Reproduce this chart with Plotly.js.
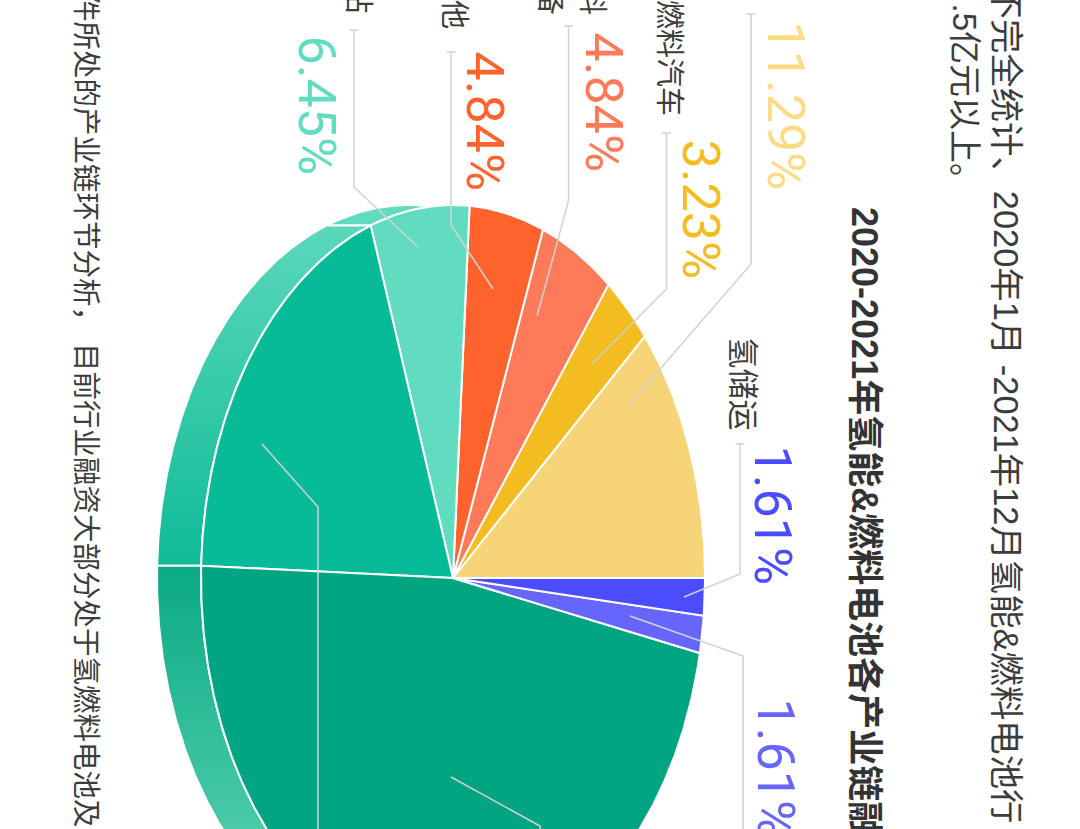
<!DOCTYPE html>
<html>
<head>
<meta charset="utf-8">
<script src="https://cdn.plot.ly/plotly-3.0.1.min.js"></script>
<style>html,body{margin:0;padding:0;background:#fff}#chart{width:1080px;height:829px}</style>
</head>
<body>
<div id="chart"></div>
<script>
// ---- data (counter-clockwise on screen, from 3 o'clock) ----
const segments = ['storage','fuelCars','materials','other','stations','green2','green1','blueB','blueA'];
const shares   = [11.29, 3.23, 4.84, 4.84, 6.45, 19.35, 46.77, 1.61, 1.61];
const percentLabels = ['11.29%','3.23%','4.84%','4.84%','6.45%','1.61%','1.61%'];

// ---- styles ----
const sliceColors = ['#f6d477','#f3bc20','#ff7a58','#ff632d','#62dcc1','#07bb98','#02a582','#6666ff','#4b4bff'];
const CJK = '"Liberation Sans","Noto Sans CJK SC",sans-serif';
const NUM = 'Roboto,"Open Sans",sans-serif';
const W = 1080, H = 829;
const cx = 453, cy = 578, rx = 252, ry = 373, depth = 44, tilt = 1.9;

const total = shares.reduce((a,b)=>a+b,0);
const cum = [0];
shares.forEach(v => cum.push(cum[cum.length-1] + v/total*360));
const warp = d => d - tilt*Math.pow(Math.sin(d*Math.PI/360),2);
function arc(a,b,shift){
  const xs=[],ys=[],n=Math.max(2,Math.ceil((b-a)/0.5));
  for(let i=0;i<=n;i++){
    const t=warp(a+(b-a)*i/n)*Math.PI/180;
    xs.push(cx-shift+rx*Math.cos(t)); ys.push(cy-ry*Math.sin(t));
  }
  return {xs,ys};
}
const traces=[];
const base={mode:'lines',hoverinfo:'skip',showlegend:false,fill:'toself',line:{color:'#ffffff',width:2}};

// rim of the tilted pie
function rim(i,c0,c1,y0,y1){
  const o=arc(cum[i],cum[i+1],depth), n=arc(cum[i],cum[i+1],0);
  traces.push(Object.assign({},base,{
    x:o.xs.concat(n.xs.slice().reverse()).concat([o.xs[0]]),
    y:o.ys.concat(n.ys.slice().reverse()).concat([o.ys[0]]),
    fillgradient:{type:'vertical',start:y0,stop:y1,colorscale:[[0,c0],[1,c1]]}
  }));
}
rim(4,'#62dcc1','#5edbbe',200,226);
rim(5,'#5ad8ba','#10bb98',226,566);
rim(6,'#0aaa84','#4acaa9',566,829);

// top face
shares.forEach((v,i)=>{
  const a=arc(cum[i],cum[i+1],0);
  traces.push(Object.assign({},base,{
    x:[cx].concat(a.xs,[cx]), y:[cy].concat(a.ys,[cy]),
    fillcolor:sliceColors[i]
  }));
});

// leader lines: [tick x, tick y, elbow y, end x, end y]
const leaders=[
  [354,30,187,418,247],[451,52,225,493,289],[568.5,26,201,537,316],
  [666.5,133,289,592,364],[751,14,264,629,405],[740,444,574,684,597]
];
leaders.forEach(l=>{
  traces.push({mode:'lines',hoverinfo:'skip',showlegend:false,line:{color:'#d2d2d2',width:1.5},
    x:[l[0]-4.5,l[0]+4.5,l[0],l[0],l[3]], y:[l[1],l[1],l[1],l[2],l[4]]});
});
[[[630,743,743],[616,656,829]],[[451,540,540],[777,826,829]],[[262,318,318],[444,507,829]]].forEach(p=>{
  traces.push({mode:'lines',hoverinfo:'skip',showlegend:false,line:{color:'#d2d2d2',width:1.5},x:p[0],y:p[1]});
});

// text
const ann=[];
function txt(s,x,y,size,color,fam,anchor,weight){
  ann.push({text:s,xref:'x',x:x,yref:'paper',y:1-y/H,showarrow:false,textangle:90,
    xanchor:'center',yanchor:anchor||'top',
    font:{family:fam||CJK,size:size,color:color||'#3c3c3c',weight:weight||400},
    borderpad:0,borderwidth:0});
}
txt(percentLabels[4],316,35,52,'#62dcc1',NUM,'top',400);
txt(percentLabels[3],484,51,52,'#ff632d',NUM,'top',400);
txt(percentLabels[2],603,32,52,'#ff7a58',NUM,'top',400);
txt(percentLabels[1],700,139,52,'#f3bc20',NUM,'top',400);
txt(percentLabels[0],785,21,52,'#fbdc85',NUM,'top',400);
txt(percentLabels[6],772,445,52,'#4b4bff',NUM,'top',400);
txt(percentLabels[5],775,698,52,'#6666ff',NUM,'top',400);

txt('加氢站',357,13,29,null,null,'bottom');
txt('其他',454,29,29,null,null,'bottom');
txt('设备',550,15,29,null,null,'bottom');
txt('材料',592,15,29,null,null,'bottom');
txt('燃料汽车',669,116,29,null,null,'bottom');
txt('氢储运',742,337,31);
txt('2020-2021年氢能&燃料电池各产业链融',865,207,36,'#333333',null,'top',700);
txt('不完全统计、2020年1月 -2021年12月氢能&燃料电池行',1006,-16,34.4);
txt('.5亿元以上。',964,196,33,null,null,'bottom');
txt('件所处的产业链环节分析， 目前行业融资大部分处于氢燃料电池及',86,-7,28.5);

Plotly.newPlot('chart',traces,{
  width:W,height:H,margin:{l:0,r:0,t:0,b:0,pad:0},
  paper_bgcolor:'#ffffff',plot_bgcolor:'#ffffff',showlegend:false,
  xaxis:{range:[0,W],visible:false,fixedrange:true},
  yaxis:{range:[H,0],visible:false,fixedrange:true},
  annotations:ann
},{displayModeBar:false,staticPlot:true});
</script>
</body>
</html>
